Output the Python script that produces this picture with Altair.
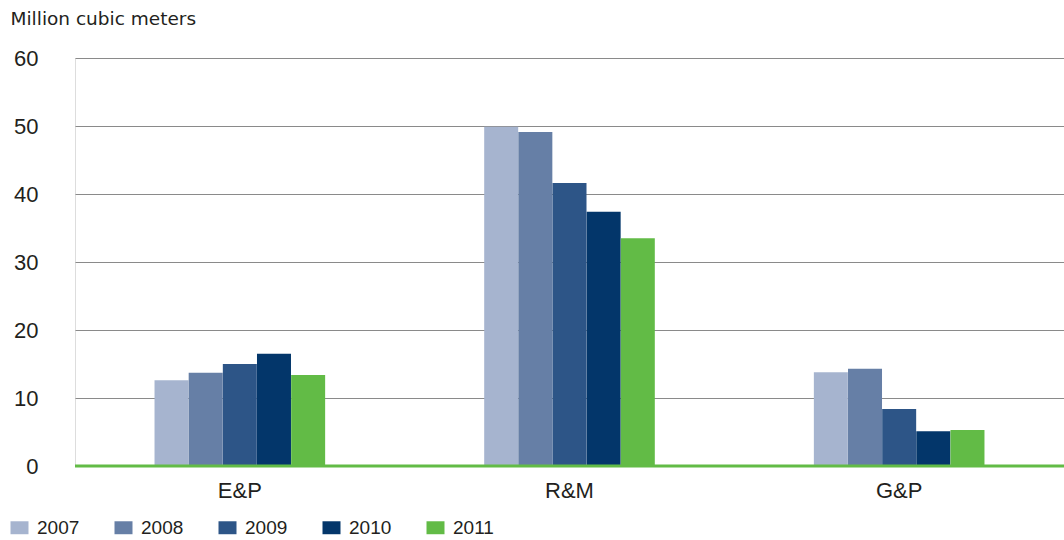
import altair as alt
import pandas as pd

categories = ["E&P", "R&M", "G&P"]
years = ["2007", "2008", "2009", "2010", "2011"]
values = {
    "E&P": [12.6, 13.7, 15.0, 16.5, 13.4],
    "R&M": [49.9, 49.1, 41.6, 37.4, 33.5],
    "G&P": [13.8, 14.3, 8.4, 5.1, 5.3],
}
colors = ["#a6b4cf", "#667fa6", "#2d5587", "#03366a", "#62bb46"]
y_ticks = [0, 10, 20, 30, 40, 50, 60]

rows = []
for c in categories:
    for y, v in zip(years, values[c]):
        rows.append({"segment": c, "year": y, "value": v})
df = pd.DataFrame(rows)

FONT = "Liberation Sans"
TXT = "#231f20"

bars = alt.Chart(df).mark_bar(size=34).encode(
    x=alt.X("segment:N", sort=categories,
            scale=alt.Scale(paddingInner=0.482, paddingOuter=0.241),
            axis=alt.Axis(title=None, labelAngle=0, ticks=False, domain=False,
                          labelFontSize=22, labelPadding=14, labelColor=TXT,
                          labelFont=FONT)),
    xOffset=alt.XOffset("year:N", sort=years, scale=alt.Scale(paddingInner=0, paddingOuter=0)),
    y=alt.Y("value:Q", scale=alt.Scale(domain=[0, 60], nice=False),
            axis=alt.Axis(values=y_ticks, title="Million cubic meters",
                          titleAngle=0, titleAlign="left", titleBaseline="alphabetic",
                          titleX=-65, titleY=-34, titleFontSize=18.5,
                          titleFontWeight="normal", titleColor=TXT, titleFont="DejaVu Sans",
                          labelFontSize=22, labelColor=TXT, labelFont=FONT,
                          labelPadding=37, ticks=False, domain=False,
                          grid=True, gridColor="#8a8a8a", gridWidth=1)),
    color=alt.Color("year:N", sort=years,
                    scale=alt.Scale(domain=years, range=colors),
                    legend=alt.Legend(title=None, orient="none", direction="horizontal",
                                      legendX=-65, legendY=460,
                                      symbolType="M-1,-0.72H1V0.72H-1Z",
                                      symbolSize=324, symbolStrokeWidth=0,
                                      labelFontSize=19, labelColor=TXT, labelFont=FONT,
                                      labelOffset=8, columnPadding=34, padding=0)),
)

baseline = alt.Chart(pd.DataFrame({"v": [0]})).mark_rule(
    color="#62bb46", strokeWidth=3
).encode(y=alt.Y("v:Q"))

chart = alt.layer(bars, baseline).properties(
    width=989, height=408,
    autosize=alt.AutoSizeParams(type="none"),
    padding={"left": 75, "top": 58, "right": 0, "bottom": 74},
).configure_view(stroke=None).configure(font=FONT)

chart.save("out.html", embed_options={"renderer": "svg", "actions": False})
